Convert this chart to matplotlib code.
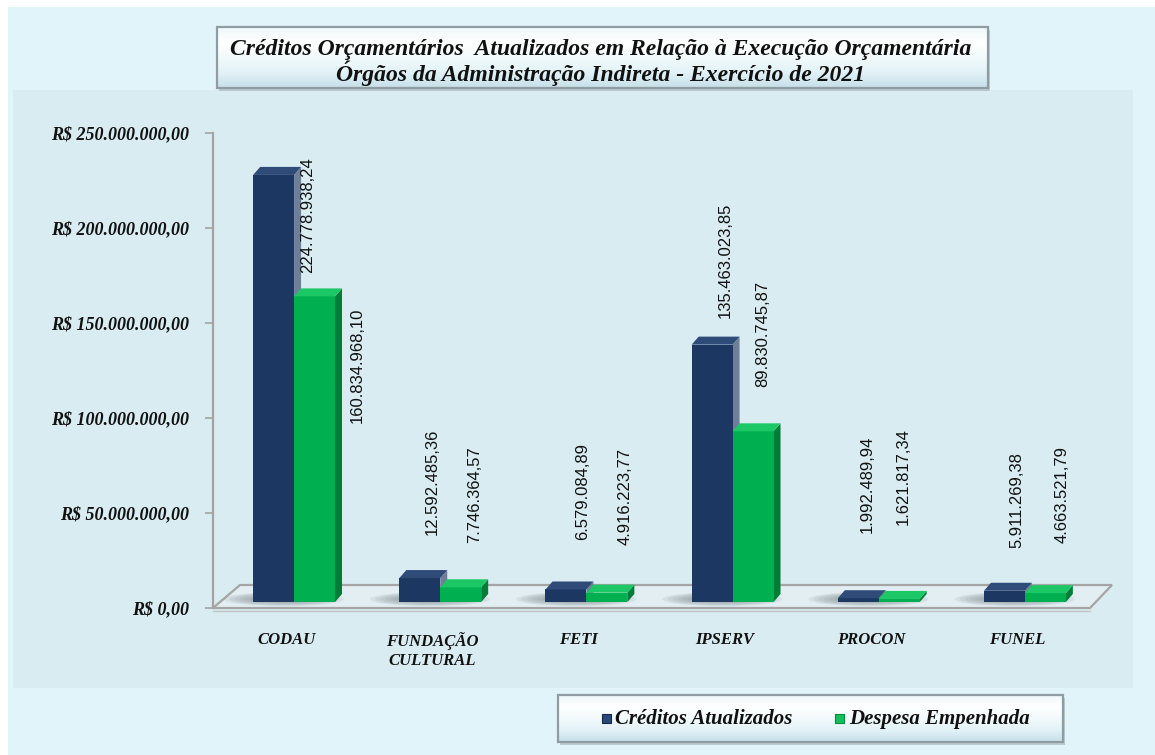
import matplotlib
matplotlib.use('Agg')
import matplotlib.pyplot as plt
import numpy as np
from matplotlib.patches import Rectangle, Polygon, Ellipse
from matplotlib.colors import LinearSegmentedColormap

# ---------------- data ----------------
categories = ['CODAU', 'FUNDAÇÃO\nCULTURAL', 'FETI', 'IPSERV', 'PROCON', 'FUNEL']
creditos = [224778938.24, 12592485.36, 6579084.89, 135463023.85, 1992489.94, 5911269.38]
despesa = [160834968.10, 7746364.57, 4916223.77, 89830745.87, 1621817.34, 4663521.79]
y_ticks = [0, 50e6, 100e6, 150e6, 200e6, 250e6]
series_names = ['Créditos Atualizados', 'Despesa Empenhada']
title_lines = ['Créditos Orçamentários  Atualizados em Relação à Execução Orçamentária',
               'Órgãos da Administração Indireta - Exercício de 2021']

# ---------------- label layout (offsets / anchor heights) ----------------
lbl_dx_cred = [0.095, -0.057, -0.023, -0.052, -0.08, -0.054]
lbl_dx_desp = [0.43, 0.238, 0.264, 0.208, 0.166, 0.254]
lbl_y_cred = [173.2e6, 35.3e6, 32.6e6, 149.5e6, 36.3e6, 28.4e6]
lbl_y_desp = [94.2e6, 31.1e6, 30.0e6, 113.2e6, 40.5e6, 31.1e6]

SERIF = ['Liberation Serif', 'DejaVu Serif']
SANS = ['Liberation Sans', 'DejaVu Sans']

def br(v, prefix=''):
    s = f"{v:,.2f}".replace(',', 'X').replace('.', ',').replace('X', '.')
    return prefix + s

W, H = 1155, 755
fig = plt.figure(figsize=(W / 100, H / 100), dpi=100)
fig.patch.set_facecolor('white')

def fr(x0, y0, x1, y1):
    return [x0 / W, 1 - y1 / H, (x1 - x0) / W, (y1 - y0) / H]

bg = fig.add_axes([0, 0, 1, 1])
bg.set_xlim(0, W)
bg.set_ylim(H, 0)
bg.axis('off')
bg.set_zorder(0)
bg.add_patch(Rectangle((8, 7), W - 8, H - 7, color='#e1f4fa', lw=0))
bg.add_patch(Rectangle((13, 90), 1120, 598, color='#d9ecf2', lw=0))

box_cmap = LinearSegmentedColormap.from_list(
    'box', ['#eef8fb', '#ffffff', '#f2fafc', '#e2f2f7', '#c6dfe8'])

def grad_box(x0, y0, x1, y1):
    bg.add_patch(Rectangle((x0 + 2, y0 + 3), x1 - x0, y1 - y0, color='#9fb0b5',
                           alpha=0.6, lw=0, zorder=1))
    clip = Rectangle((x0, y0), x1 - x0, y1 - y0, facecolor='none', edgecolor='none')
    bg.add_patch(clip)
    grad = np.linspace(0, 1, 128).reshape(-1, 1)
    im = bg.imshow(grad, cmap=box_cmap, aspect='auto', extent=(x0, x1, y1, y0),
                   zorder=2, interpolation='bilinear')
    im.set_clip_path(clip)
    bg.add_patch(Rectangle((x0, y0), x1 - x0, y1 - y0, facecolor='none',
                           edgecolor='#8f9ca1', lw=1.6, zorder=3))

# title box
grad_box(217, 27, 988, 88)
bg.text(601, 50, title_lines[0], ha='center', va='center', fontsize=17,
        family=SERIF, weight='bold', style='italic', color='#111111', zorder=4)
bg.text(601, 73, title_lines[1], ha='center', va='center', fontsize=17,
        family=SERIF, weight='bold', style='italic', color='#111111', zorder=4)

# floor
bg.add_patch(Polygon([(213, 608), (1090, 608), (1112, 585), (240, 585)], closed=True,
                     facecolor='#e3eef2', edgecolor='#a5a5a5', lw=1.6, zorder=2))
bg.plot([213, 1090], [610.5, 610.5], color='#c2c2c2', lw=1.0, zorder=2)

# legend box
grad_box(558, 695, 1063, 742)
blue_front, blue_side, blue_top = '#1c3762', '#6f7f98', '#2f4b78'
green_front, green_side, green_top = '#00b050', '#007d38', '#1cc866'
bg.add_patch(Rectangle((602, 714), 9, 9, facecolor='#2a4878', edgecolor='#142a4c', lw=0.8, zorder=4))
bg.add_patch(Rectangle((835, 714), 9, 9, facecolor='#12c05c', edgecolor='#008a3a', lw=0.8, zorder=4))
bg.text(615, 719, series_names[0], ha='left', va='center', fontsize=15, family=SERIF,
        weight='bold', style='italic', color='#111111', zorder=4)
bg.text(849, 719, series_names[1], ha='left', va='center', fontsize=15, family=SERIF,
        weight='bold', style='italic', color='#111111', zorder=4)

# value axis / category axis
ax = fig.add_axes(fr(213, 133, 1090, 608))
ax.set_zorder(2)
ax.patch.set_visible(False)
ax.set_xlim(-0.5, len(categories) - 0.5)
ax.set_ylim(0, 250e6)
for s in ['top', 'right', 'bottom']:
    ax.spines[s].set_visible(False)
ax.spines['left'].set_color('#a3a3a3')
ax.spines['left'].set_linewidth(1.6)
ax.set_yticks(y_ticks)
ax.set_yticklabels([br(v, 'R$ ') for v in y_ticks], fontsize=13, family=SERIF,
                   weight='bold', style='italic', color='#111111')
ax.tick_params(axis='y', length=6, width=1.2, color='#a3a3a3', pad=11.5)
ax.set_xticks(range(len(categories)))
ax.set_xticklabels(categories, fontsize=12, family=SERIF, weight='bold',
                   style='italic', color='#111111', linespacing=1.25)
ax.tick_params(axis='x', length=0, pad=17)

# bars (set back in depth)
axb = fig.add_axes(fr(221, 127, 1098, 602))
axb.set_zorder(3)
axb.patch.set_visible(False)
axb.set_xlim(-0.5, len(categories) - 0.5)
axb.set_ylim(0, 250e6)
axb.axis('off')

x = np.arange(len(categories))
w = 0.28
off = 0.14
ddx = 7 / 146.17
ddy = 8 / 1.9 * 1e6

# soft shadows on the floor
for xi in x:
    for k in range(7):
        axb.add_patch(Ellipse((xi - 0.07, 1.5e6), 0.82 - k * 0.07, 7.5e6 - k * 0.8e6,
                              color='#7d878c', alpha=0.13, lw=0, zorder=1, clip_on=False))

for xs, vals, cf, cs, ct, zo in [(x - off, creditos, blue_front, blue_side, blue_top, 2),
                                 (x + off, despesa, green_front, green_side, green_top, 4)]:
    bars = axb.bar(xs, vals, w, color=cf, lw=0, zorder=zo)
    for b in bars:
        x0 = b.get_x()
        x1 = x0 + b.get_width()
        h = b.get_height()
        axb.add_patch(Polygon([(x1, 0), (x1 + ddx, ddy), (x1 + ddx, h + ddy), (x1, h)],
                              closed=True, facecolor=cs, lw=0, zorder=zo - 0.5))
        axb.add_patch(Polygon([(x0, h), (x0 + ddx, h + ddy), (x1 + ddx, h + ddy), (x1, h)],
                              closed=True, facecolor=ct, lw=0, zorder=zo + 0.5))

for i in range(len(categories)):
    axb.text(x[i] + lbl_dx_cred[i], lbl_y_cred[i], br(creditos[i]), rotation=90,
             ha='center', va='bottom', fontsize=12, family=SANS, color='#111111', zorder=6)
    axb.text(x[i] + lbl_dx_desp[i], lbl_y_desp[i], br(despesa[i]), rotation=90,
             ha='center', va='bottom', fontsize=12, family=SANS, color='#111111', zorder=6)

fig.savefig('out.png', dpi=100)
